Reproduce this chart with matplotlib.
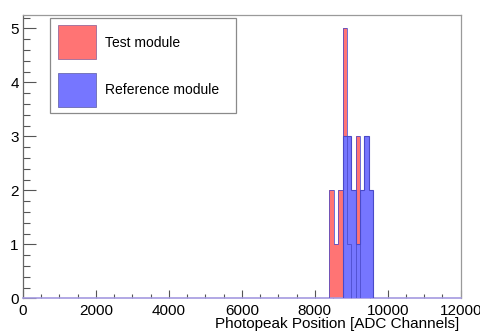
import numpy as np
import matplotlib
matplotlib.use("Agg")
import matplotlib.pyplot as plt
from matplotlib.patches import Rectangle
from matplotlib.ticker import MultipleLocator

plt.rcParams['font.family'] = ['Liberation Sans', 'DejaVu Sans']

# Histogram binning: 100 bins over 0..12000 ADC channels
n_bins = 100
x_min, x_max = 0, 12000
edges = np.linspace(x_min, x_max, n_bins + 1)

# Photopeak positions per module (counts in consecutive bins)
test_first_bin = 70
test_counts = [2, 1, 2, 5, 1, 0, 3]
ref_first_bin = 73
ref_counts = [3, 3, 2, 1, 2, 3, 2]

labels = ["Test module", "Reference module"]
x_ticks = [0, 2000, 4000, 6000, 8000, 10000, 12000]
y_ticks = [0, 1, 2, 3, 4, 5]
x_title = "Photopeak Position [ADC Channels]"

red_fill = "#ff7474"
blue_fill = "#7676ff"
edge_col = "#4a4ac8"

W, H = 481, 331
fig = plt.figure(figsize=(W / 100, H / 100), dpi=100)
ax = fig.add_axes([23 / W, 1 - 298.3 / H, (460.7 - 23) / W, (298.3 - 15) / H])

test_edges = edges[test_first_bin:test_first_bin + len(test_counts) + 1]
ref_edges = edges[ref_first_bin:ref_first_bin + len(ref_counts) + 1]

ax.stairs(test_counts, test_edges, fill=True, color=red_fill, zorder=2)
ax.stairs(ref_counts, ref_edges, fill=True, color=blue_fill, zorder=3)
ax.stairs(ref_counts, ref_edges, fill=False, color=edge_col, lw=0.8, zorder=4)
ax.stairs(test_counts, test_edges, fill=False, color=edge_col, lw=0.7,
          alpha=0.8, zorder=4)

ax.set_xlim(x_min, x_max)
ax.set_ylim(0, 1.05 * max(max(test_counts), max(ref_counts)))
ax.set_xticks(x_ticks)
ax.set_yticks(y_ticks)
ax.xaxis.set_minor_locator(MultipleLocator(500))
ax.yaxis.set_minor_locator(MultipleLocator(0.2))

tick_col = "#555555"
ax.tick_params(axis='x', which='major', direction='in', length=6.1, width=0.8,
               color=tick_col, labelsize=11, pad=4, top=False)
ax.tick_params(axis='x', which='minor', direction='in', length=3.1, width=0.8,
               color=tick_col, top=False)
ax.tick_params(axis='y', which='major', direction='in', length=9.4, width=0.8,
               color=tick_col, labelsize=11, pad=3, right=False)
ax.tick_params(axis='y', which='minor', direction='in', length=4.7, width=0.8,
               color=tick_col, right=False)

for side in ['top', 'right']:
    ax.spines[side].set_color("#9a9a9a")
    ax.spines[side].set_linewidth(0.9)
ax.spines['left'].set_color("#666666")
ax.spines['left'].set_linewidth(0.9)
ax.spines['bottom'].set_color("#a49ae0")
ax.spines['bottom'].set_linewidth(1.2)

fig.text(459 / W, 1 - 324 / H, x_title, ha='right', va='center', fontsize=11)

# Legend box drawn in figure pixel space
def px_rect(x0, y0, x1, y1, **kw):
    return Rectangle((x0 / W, 1 - y1 / H), (x1 - x0) / W, (y1 - y0) / H,
                     transform=fig.transFigure, **kw)

fig.patches.append(px_rect(50, 18, 236, 113, facecolor='white',
                           edgecolor='#8a8a8a', lw=0.9, zorder=5))
fig.patches.append(px_rect(58, 25, 96, 59, facecolor=red_fill,
                           edgecolor='#9a6a9a', lw=0.6, zorder=6))
fig.patches.append(px_rect(58, 73, 96, 107, facecolor=blue_fill,
                           edgecolor='#6a6ab0', lw=0.6, zorder=6))
fig.text(105 / W, 1 - 43 / H, labels[0], ha='left', va='center', fontsize=10,
         zorder=7)
fig.text(105 / W, 1 - 90 / H, labels[1], ha='left', va='center', fontsize=10,
         zorder=7)

fig.savefig("out.png", dpi=100)
